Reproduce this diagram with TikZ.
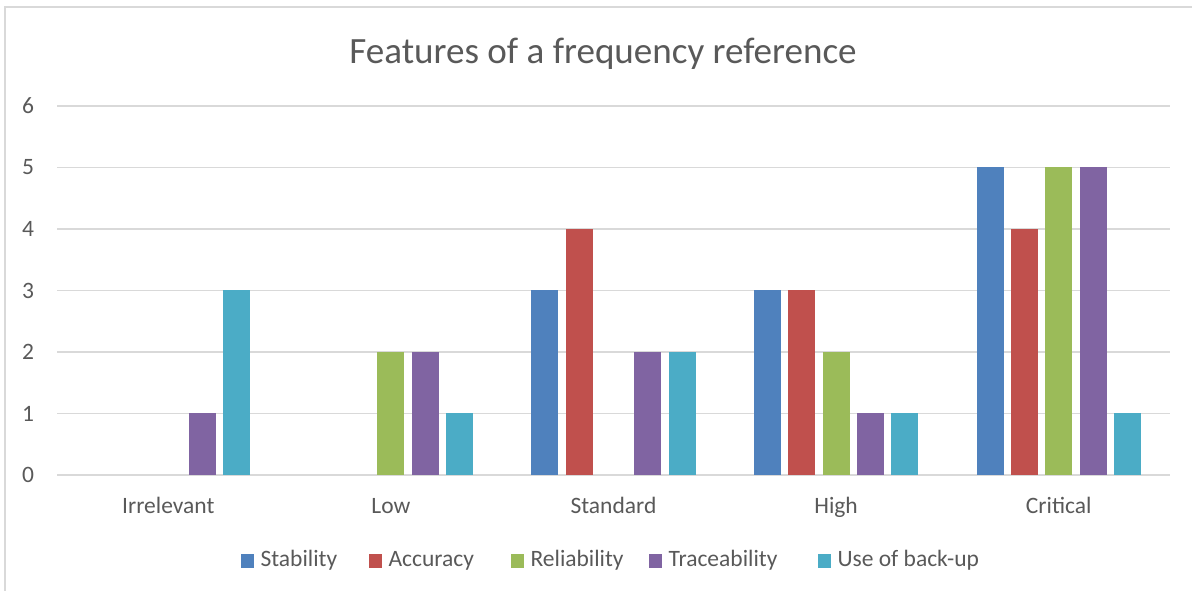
\documentclass[tikz,border=0pt]{standalone}
\usepackage{fontspec}
\setmainfont{Carlito}
\usetikzlibrary{positioning}
\definecolor{txtgray}{HTML}{595959}
\definecolor{gridgray}{HTML}{D9D9D9}
\definecolor{ser0}{HTML}{4F81BD}
\definecolor{ser1}{HTML}{C0504D}
\definecolor{ser2}{HTML}{9BBB59}
\definecolor{ser3}{HTML}{8064A2}
\definecolor{ser4}{HTML}{4BACC6}
\tikzset{
  gridline/.style={draw=gridgray, line width=0.75pt},
  frame/.style={draw=gridgray, line width=0.6pt},
  axlabel/.style={text=txtgray, inner sep=0pt},
  keybox/.style={minimum size=5pt, inner sep=0pt, outer sep=0pt},
}
\begin{document}
\begin{tikzpicture}[x=0.383pt, y=-0.383pt, font=\fontsize{9}{11}\selectfont]
    \useasboundingbox (0,0) rectangle (1192,591);
    % outer frame of the chart
    \draw[frame] (5,620) -- (5,7) -- (1220,7);
    \node[axlabel, anchor=base, font=\fontsize{14.2}{17}\selectfont] (title) at (603,64) {Features of a frequency reference};
    % grid and values
    \foreach \v in {0,...,6}{
        \draw[gridline] (57,475-61.5*\v) -- (1170,475-61.5*\v);
        \node[axlabel] (tick\v) at (28,475-61.5*\v) {\v};
    }
    \foreach \cat/\vals [count=\i from 0] in {Irrelevant/{0,0,0,1,3}, Low/{0,0,2,2,1}, Standard/{3,4,0,2,2}, High/{3,3,2,1,1}, Critical/{5,4,5,5,1}}{
        \node[axlabel, anchor=base] (cat\i) at (168.3+222.6*\i,514) {\cat};
        \foreach \val [count=\k from 0] in \vals{
            \ifnum\val>0
            \fill[ser\k] (168.3+222.6*\i+34.3*\k-68.6-13.5,475) rectangle (168.3+222.6*\i+34.3*\k-68.6+13.5,475-61.5*\val);
            \fi
        }
    }
    % legend
    \foreach \name/\x [count=\k from 0] in {Stability/247.5, Accuracy/375.5, Reliability/517.5, Traceability/655.5, Use of back-up/824.5}{
        \node[keybox, fill=ser\k] (key\k) at (\x,561) {};
        \node[axlabel, anchor=west, right=2.3pt of key\k] (keytext\k) {\strut\name};
    }
\end{tikzpicture}
\end{document}
